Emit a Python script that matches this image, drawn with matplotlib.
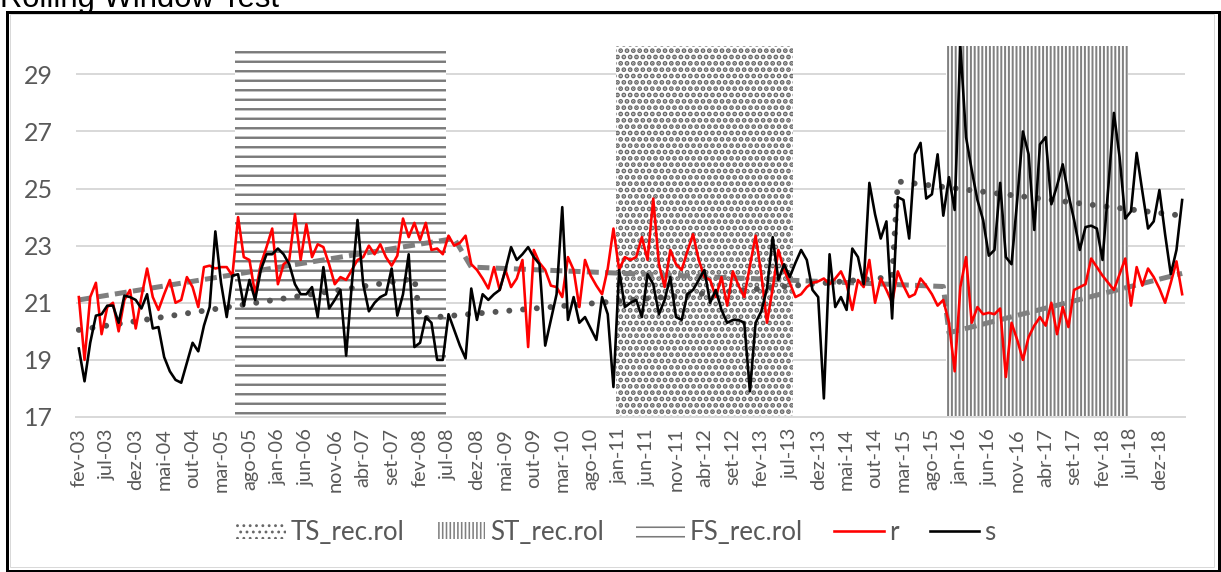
import numpy as np
import matplotlib
matplotlib.use("Agg")
import matplotlib.pyplot as plt
from matplotlib.patches import Rectangle

# ---------------------------------------------------------------- data
first_month = "fev-03"

r = [21.2, 19.0, 21.2, 21.7, 19.9, 20.85, 21.0, 20.0, 21.1, 21.45,
     20.1, 21.2, 22.2, 21.2, 20.75, 21.3, 21.8, 21.0, 21.1, 21.9,
     21.55, 20.85, 22.25, 22.3, 22.2, 22.25, 22.25, 21.95, 24.0, 22.6,
     22.5, 21.3, 22.35, 22.95, 23.6, 21.65, 22.35, 22.5, 24.1, 22.5,
     23.75, 22.6, 23.05, 22.95, 22.35, 21.65, 21.9, 21.8, 22.15, 22.5,
     22.6, 23.0, 22.7, 23.05, 22.6, 22.3, 22.65, 23.95, 23.3, 23.8,
     23.2, 23.8, 22.85, 22.9, 22.7, 23.35, 23.0, 23.1, 23.35, 22.35,
     22.15, 21.85, 21.5, 22.25, 21.45, 22.15, 21.55, 21.85, 22.5, 19.45,
     22.85, 22.4, 22.15, 21.6, 21.55, 21.2, 22.6, 22.15, 20.85, 22.5,
     21.95, 21.6, 21.3, 22.2, 23.6, 22.15, 22.6, 22.5, 22.6, 23.3,
     22.5, 24.65, 22.35, 21.55, 22.85, 22.35, 22.15, 22.8, 23.4, 22.5,
     21.9, 21.8, 21.2, 21.9, 20.9, 22.1, 21.6, 21.2, 22.3, 23.35,
     22.0, 20.3, 21.5, 22.85, 22.15, 21.7, 21.2, 21.3, 21.55, 21.7,
     21.75, 21.85, 21.65, 21.85, 22.1, 21.65, 20.75, 21.8, 21.55, 22.5,
     21.0, 21.85, 21.45, 21.0, 22.1, 21.6, 21.2, 21.3, 21.85, 21.6,
     21.3, 20.9, 21.1, 20.3, 18.6, 21.55, 22.6, 20.3, 20.85, 20.6,
     20.65, 20.6, 20.8, 18.4, 20.3, 19.7, 19.0, 19.8, 20.2, 20.5,
     20.2, 21.0, 19.9, 20.85, 20.15, 21.45, 21.55, 21.65, 22.55, 22.25,
     21.95, 21.7, 21.45, 22.0, 22.55, 20.9, 22.25, 21.6, 22.2, 21.9,
     21.5, 21.0, 21.7, 22.45, 21.3]

s = [19.4, 18.25, 19.6, 20.55, 20.6, 20.9, 20.9, 20.3, 21.25, 21.2,
     21.1, 20.8, 21.3, 20.1, 20.15, 19.1, 18.6, 18.3, 18.2, 18.9,
     19.6, 19.3, 20.2, 20.85, 23.5, 21.7, 20.5, 21.95, 22.0, 20.9,
     21.8, 21.1, 22.15, 22.7, 22.7, 22.9, 22.7, 22.35, 21.65, 21.3,
     21.3, 21.55, 20.5, 22.25, 20.8, 21.1, 21.45, 19.15, 21.65, 23.9,
     21.65, 20.7, 21.0, 21.2, 21.3, 22.2, 20.55, 21.3, 22.7, 19.45,
     19.6, 20.5, 20.3, 19.0, 19.0, 20.6, 20.05, 19.5, 19.05, 21.5,
     20.4, 21.3, 21.1, 21.3, 21.45, 22.15, 22.95, 22.5, 22.7, 22.95,
     22.6, 22.35, 19.5, 20.4, 21.3, 24.35, 20.4, 21.2, 20.3, 20.5,
     20.1, 19.7, 21.2, 20.6, 18.05, 22.15, 20.85, 21.0, 21.1, 20.5,
     22.0, 21.65, 20.6, 21.1, 21.9, 20.5, 20.4, 21.3, 21.45, 21.8,
     22.15, 21.0, 21.45, 20.75, 20.3, 20.4, 20.4, 20.3, 17.9, 20.3,
     20.7, 21.5, 23.3, 21.8, 22.35, 21.9, 22.4, 22.85, 22.5, 21.45,
     21.2, 17.65, 22.7, 20.85, 21.2, 20.75, 22.9, 22.6, 21.65, 25.2,
     24.1, 23.25, 23.85, 20.45, 24.7, 24.6, 23.25, 26.2, 26.6, 24.65,
     24.8, 26.2, 24.05, 25.4, 24.25, 30.0, 26.8, 25.65, 24.6, 23.9,
     22.65, 22.85, 25.2, 22.6, 22.35, 24.6, 27.0, 26.2, 23.55, 26.55,
     26.8, 24.45, 25.1, 25.85, 24.8, 23.9, 22.85, 23.65, 23.7, 23.6,
     22.5, 25.0, 27.65, 26.1, 23.95, 24.2, 26.25, 24.9, 23.6, 23.85,
     24.95, 23.4, 22.0, 22.85, 24.6]

# piecewise trend of r and s (segment end points)
r_trend_months = ["fev-03", "ago-08", "nov-08", "out-15", "nov-15", "abr-19"]
r_trend_values = [21.1, 23.25, 22.25, 21.57, 19.95, 22.03]
s_trend_months = ["fev-03", "jan-08", "fev-08", "jan-15", "fev-15", "abr-19"]
s_trend_values = [20.05, 21.85, 20.45, 21.9, 25.25, 24.05]

# recession windows (column series reaching 30)
regime_names = ["TS_rec.rol", "ST_rec.rol", "FS_rec.rol"]
regime_start = ["jan-11", "nov-15", "jun-05"]
regime_end = ["jul-13", "jun-18", "jun-08"]
regime_level = 30

tick_labels = ["fev-03", "jul-03", "dez-03", "mai-04", "out-04", "mar-05",
               "ago-05", "jan-06", "jun-06", "nov-06", "abr-07", "set-07",
               "fev-08", "jul-08", "dez-08", "mai-09", "out-09", "mar-10",
               "ago-10", "jan-11", "jun-11", "nov-11", "abr-12", "set-12",
               "fev-13", "jul-13", "dez-13", "mai-14", "out-14", "mar-15",
               "ago-15", "jan-16", "jun-16", "nov-16", "abr-17", "set-17",
               "fev-18", "jul-18", "dez-18"]

MONTHS = ["jan", "fev", "mar", "abr", "mai", "jun",
          "jul", "ago", "set", "out", "nov", "dez"]


def month_index(label):
    """Position of a 'mmm-yy' month on the category axis."""
    m, y = label.split("-")
    m0, y0 = first_month.split("-")
    return (int(y) - int(y0)) * 12 + MONTHS.index(m) - MONTHS.index(m0)


# ---------------------------------------------------------------- figure
DPI = 114
W, H = 1221, 572
PX = 72.0 / DPI  # points per pixel

plt.rcParams["font.family"] = ["Lato", "DejaVu Sans"]

fig = plt.figure(figsize=(W / DPI, H / DPI), dpi=DPI)
fig.patch.set_facecolor("white")

ax = fig.add_axes([76 / W, 1 - 417 / H, (1185 - 76) / W, (417 - 45.8) / H])
ax.set_facecolor("white")

n = len(r)
x = np.arange(n)

# recession windows as patterned columns
hatch_style = {"TS_rec.rol": ("...", "#686868", 3.4),
               "ST_rec.rol": ("|||||", "#808080", 2.0),
               "FS_rec.rol": ("--", "#7a7a7a", 2.4)}
handles = {}
for name, a, b in zip(regime_names, regime_start, regime_end):
    i0, i1 = month_index(a), month_index(b)
    hatch, col, hlw = hatch_style[name]
    with plt.rc_context({"hatch.linewidth": hlw * PX}):
        bars = ax.bar((i0 + i1) / 2, regime_level - 17, width=i1 - i0 + 1,
                      bottom=17, facecolor="white", edgecolor=col,
                      linewidth=0, hatch=hatch, zorder=2, label=name)
    patch = bars.patches[0]
    if hasattr(patch, "set_hatch_linewidth"):
        patch.set_hatch_linewidth(hlw * PX)
    handles[name] = patch

# piecewise trends
ax.plot([month_index(m) for m in r_trend_months], r_trend_values,
        color="#7f7f7f", lw=5 * PX, dashes=(2.4, 1.25),
        dash_capstyle="butt", zorder=3)
ax.plot([month_index(m) for m in s_trend_months], s_trend_values,
        color="#555555", lw=6 * PX, dashes=(0.001, 2.3),
        dash_capstyle="round", zorder=3)

# series
ln_r, = ax.plot(x, r, color="#ff0000", lw=2.6 * PX, zorder=4, label="r")
ln_s, = ax.plot(x, s, color="#000000", lw=2.6 * PX, zorder=5, label="s")

ax.set_xlim(-0.5, n - 0.5)
ax.set_ylim(17, 30)
ax.set_yticks(np.arange(17, 30, 2))
ax.set_xticks([month_index(t) for t in tick_labels])
ax.set_xticklabels(tick_labels, rotation=90, fontsize=20 * PX,
                   color="#595959", va="top", ha="center")
ax.tick_params(axis="y", labelsize=25 * PX, labelcolor="#595959",
               length=0, pad=23 * PX)
ax.tick_params(axis="x", length=0, pad=11 * PX)

ax.set_axisbelow(True)
ax.yaxis.grid(True, color="#d9d9d9", lw=2 * PX)
for side in ("top", "right", "left"):
    ax.spines[side].set_visible(False)
ax.spines["bottom"].set_color("#d9d9d9")
ax.spines["bottom"].set_linewidth(2 * PX)
ax.spines["bottom"].set_zorder(2.5)

leg = fig.legend([handles["TS_rec.rol"], handles["ST_rec.rol"],
                  handles["FS_rec.rol"], ln_r, ln_s],
                 ["TS_rec.rol", "ST_rec.rol", "FS_rec.rol", "r", "s"],
                 loc="center", bbox_to_anchor=(616 / W, 1 - 532 / H),
                 ncol=5, frameon=False, fontsize=26 * PX,
                 handlelength=1.9, handleheight=0.6, handletextpad=0.2,
                 columnspacing=1.2, labelcolor="#595959")

# title, partly above the top edge
fig.text(0, 1 - 6.5 / H, "Rolling Window Test", ha="left", va="baseline",
         fontsize=31 * PX, color="#000000", family="Liberation Sans")

# chart frame
fig.add_artist(Rectangle((9.5 / W, 1 - 567 / H), (1214 - 9.5) / W,
                         (567 - 14) / H, transform=fig.transFigure,
                         fill=False, edgecolor="#d9d9d9", lw=1 * PX))
fig.add_artist(Rectangle((6.5 / W, 1 - 570.5 / H), (1218.5 - 6.5) / W,
                         (570.5 - 11.5) / H, transform=fig.transFigure,
                         fill=False, edgecolor="#000000", lw=3 * PX))

fig.savefig("out.png", dpi=DPI, facecolor="white")
